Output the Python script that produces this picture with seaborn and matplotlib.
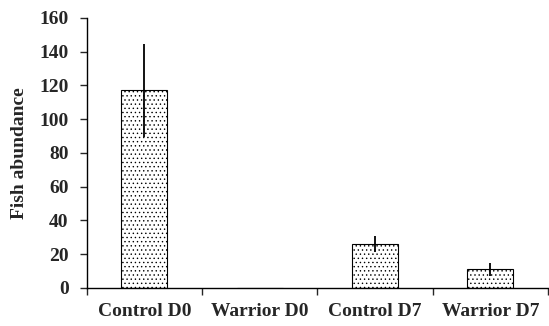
import matplotlib
matplotlib.use("Agg")
import matplotlib.pyplot as plt
import numpy as np
import pandas as pd
import seaborn as sns

groups = ["Control D0", "Warrior D0", "Control D7", "Warrior D7"]
abundance = [117, 0, 26, 11]
abundance_err = [27.5, 0, 5, 4]
y_ticks = [0, 20, 40, 60, 80, 100, 120, 140, 160]


def main():
    sns.set_theme()
    sns.set_style("ticks")
    plt.rcParams["font.family"] = ["Liberation Serif", "DejaVu Serif"]
    plt.rcParams["font.weight"] = "bold"
    plt.rcParams["hatch.linewidth"] = 0.5
    plt.rcParams["hatch.color"] = "#666666"

    df = pd.DataFrame({"group": groups, "abundance": abundance})

    fig = plt.figure(figsize=(5.49, 3.26), dpi=100)
    ax = fig.add_axes([0.158, 0.117, 0.84, 0.828])

    sns.barplot(data=df, x="group", y="abundance", ax=ax, color="white",
                edgecolor="black", linewidth=0.8, width=0.4, errorbar=None)
    for p in ax.patches:
        p.set_hatch("....")
        p.set_edgecolor("black")

    ax.errorbar(np.arange(len(groups)), abundance, yerr=abundance_err,
                fmt="none", ecolor="black", elinewidth=1.3, capsize=0)

    ax.set_ylim(0, 160)
    ax.set_xlim(-0.5, len(groups) - 0.5)
    ax.set_yticks(y_ticks)
    ax.set_yticklabels([str(t) for t in y_ticks], fontsize=14, fontweight="bold")
    ax.set_xticks(np.arange(len(groups)))
    ax.set_xticklabels(groups, fontsize=14, fontweight="bold")
    ax.set_xticks(np.arange(len(groups) + 1) - 0.5, minor=True)
    ax.tick_params(axis="x", which="major", length=0, pad=11)
    ax.tick_params(axis="x", which="minor", length=5, width=1, direction="out")
    ax.tick_params(axis="y", length=5, width=1, direction="out", pad=8)
    ax.set_xlabel("")
    ax.set_ylabel("Fish abundance", fontsize=14, fontweight="bold", labelpad=8)

    sns.despine(ax=ax, top=True, right=True)
    for s in ["left", "bottom"]:
        ax.spines[s].set_color("black")
        ax.spines[s].set_linewidth(1)
    ax.grid(False)

    fig.savefig("out.png", dpi=100)


if __name__ == "__main__":
    main()
